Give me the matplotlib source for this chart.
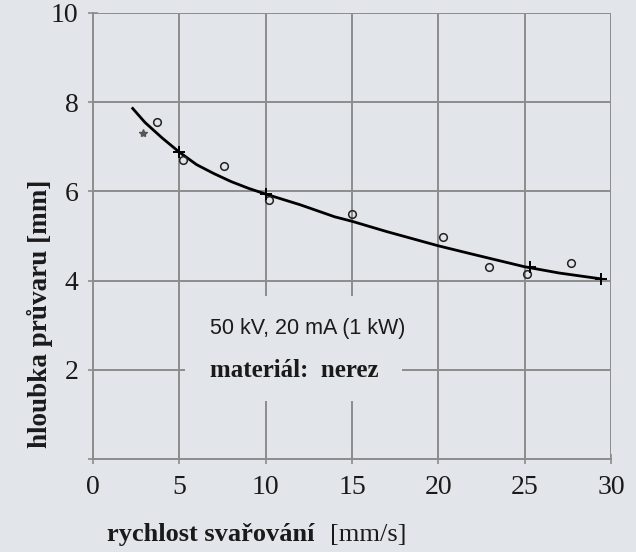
import matplotlib
matplotlib.use("Agg")
import matplotlib.pyplot as plt
from matplotlib.patches import Rectangle

# measured points (welding speed [mm/s], penetration depth [mm])
meas_x = [3.69, 5.19, 7.59, 10.19, 14.98, 20.28, 22.95, 25.11, 27.66]
meas_y = [7.56, 6.70, 6.58, 5.80, 5.50, 4.97, 4.31, 4.15, 4.39]
star_x = [2.91]
star_y = [7.30]

# fitted curve
curve_x = [2.3, 3, 4, 5, 6, 7, 8, 9, 10, 12, 14, 15, 17, 20, 22, 25, 27, 29.4]
curve_y = [7.86, 7.55, 7.2, 6.88, 6.6, 6.4, 6.22, 6.07, 5.94, 5.70, 5.43, 5.33,
           5.10, 4.78, 4.59, 4.31, 4.17, 4.04]

# small crosses sitting on the curve
cross_x = [5, 10, 25.3, 29.4]
cross_y = [6.88, 5.94, 4.31, 4.04]

x_ticks = [0, 5, 10, 15, 20, 25, 30]
y_ticks = [2, 4, 6, 8, 10]

bg = '#e2e5e9'
grid_col = '#8c8c8c'
ink = '#1a1a1a'

fig = plt.figure(figsize=(6.36, 5.52), dpi=100, facecolor=bg)
ax = fig.add_axes([93 / 636, 1 - 459 / 552, 518 / 636, 446 / 552])
ax.set_facecolor(bg)

ax.set_xlim(0, 30)
ax.set_ylim(0, 10)

# grid
for xv in x_ticks[1:]:
    ax.axvline(xv, color=grid_col, lw=1.4, zorder=1)
for yv in y_ticks:
    ax.axhline(yv, color=grid_col, lw=1.4, zorder=1)

# blank area behind the notes (grid is broken there in the original)
ax.add_patch(Rectangle((5.3, 1.3), 12.6, 2.35, facecolor=bg, edgecolor='none', zorder=2))

ax.plot(curve_x, curve_y, color='black', lw=2.0, zorder=4)
ax.plot(meas_x, meas_y, 'o', ms=5.5, mfc='none', mec='#222222', mew=1.1, zorder=5)
ax.plot(star_x, star_y, '*', ms=6, color='#555555', zorder=5)
ax.plot(cross_x, cross_y, '+', ms=8, mew=1.4, color='black', zorder=5)

for s in ['top', 'right']:
    ax.spines[s].set_visible(False)
for s in ['left', 'bottom']:
    ax.spines[s].set_color(grid_col)
    ax.spines[s].set_linewidth(1.4)

ax.set_xticks(x_ticks)
ax.set_yticks([0] + y_ticks)
ax.set_yticklabels(['', '2', '4', '6', '8', '10'])
ax.tick_params(axis='both', direction='inout', length=7, width=1.2, color=grid_col,
               labelsize=20, labelcolor=ink)
ax.tick_params(axis='x', pad=8)
ax.tick_params(axis='y', pad=7)
for lab in ax.get_xticklabels() + ax.get_yticklabels():
    lab.set_family('Liberation Serif')

ax.text(6.8, 2.92, '50 kV, 20 mA (1 kW)', fontsize=15.5, family='Liberation Sans',
        color=ink, va='center', ha='left', zorder=6)
ax.text(6.8, 1.98, 'materiál:  nerez', fontsize=18, family='Liberation Serif',
        weight='bold', color=ink, va='center', ha='left', zorder=6)

# axis titles
fig.text(40 / 636, 1 - 314 / 552, 'hloubka průvaru [mm]', rotation=90, fontsize=19.5,
         family='Liberation Serif', weight='bold', color=ink, ha='center', va='center')
fig.text(107 / 636, 1 - 535 / 552, 'rychlost svařování', fontsize=19,
         family='Liberation Serif', weight='bold', color=ink, ha='left', va='center')
fig.text(330 / 636, 1 - 535 / 552, '[mm/s]', fontsize=19,
         family='Liberation Serif', color=ink, ha='left', va='center')

fig.savefig('out.png', dpi=100, facecolor=bg)
